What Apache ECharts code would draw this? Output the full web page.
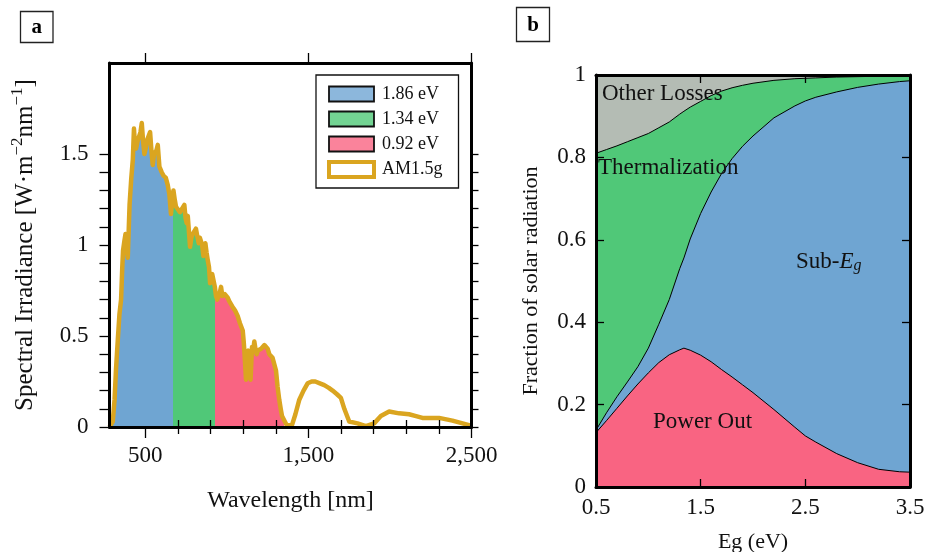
<!DOCTYPE html>
<html>
<head>
<meta charset="utf-8">
<script src="https://cdn.jsdelivr.net/npm/echarts@6/dist/echarts.min.js"></script>
<style>
  html, body { margin: 0; padding: 0; background: #fff; }
  #chart { width: 928px; height: 552px; }
</style>
</head>
<body>
<div id="chart"></div>
<script>
// ---- Panel a: AM1.5g solar spectrum ----
const wavelength = [280, 300, 311, 320, 331, 341, 351, 358, 363, 371, 378, 386, 392, 403, 413, 423, 430, 436, 443, 452,
  460, 470, 478, 486, 494, 504, 512, 520, 529, 537, 545, 553, 560, 568, 576, 586, 600, 612, 625, 637,
  647, 657, 664, 672, 680, 688, 698, 712, 725, 739, 746, 753, 760, 764, 774, 782, 790, 800, 810, 818,
  827, 834, 841, 848, 856, 862, 868, 875, 882, 890, 897, 903, 910, 918, 926, 933, 941, 949, 957, 964,
  972, 979, 987, 994, 1005, 1015, 1035, 1050, 1066, 1080, 1097, 1103, 1107, 1117, 1124, 1131, 1138, 1145, 1150, 1154,
  1161, 1168, 1175, 1182, 1190, 1199, 1210, 1219, 1230, 1240, 1250, 1260, 1270, 1280, 1292, 1301, 1311, 1321, 1330, 1338,
  1350, 1367, 1399, 1420, 1444, 1470, 1495, 1520, 1542, 1570, 1597, 1625, 1648, 1675, 1699, 1720, 1750, 1801, 1852, 1903,
  1944, 1995, 2056, 2117, 2160, 2199, 2301, 2383, 2485, 2500];
const irradiance = [0, 0.03, 0.15, 0.32, 0.48, 0.62, 0.70, 0.87, 0.97, 1.02, 1.06, 0.98, 0.93, 1.22, 1.36, 1.47, 1.64, 1.55, 1.53, 1.57,
  1.56, 1.62, 1.67, 1.57, 1.50, 1.54, 1.58, 1.57, 1.62, 1.52, 1.44, 1.50, 1.50, 1.52, 1.55, 1.43, 1.40, 1.38, 1.37, 1.33,
  1.28, 1.17, 1.24, 1.30, 1.25, 1.21, 1.20, 1.18, 1.20, 1.22, 1.15, 1.12, 1.16, 1.15, 0.99, 1.04, 1.06, 1.07, 1.09, 1.05,
  1.01, 1.04, 1.05, 1.00, 0.94, 0.98, 1.01, 0.96, 0.92, 0.88, 0.79, 0.82, 0.84, 0.84, 0.77, 0.72, 0.70, 0.70, 0.74, 0.77,
  0.72, 0.71, 0.73, 0.73, 0.71, 0.69, 0.66, 0.64, 0.61, 0.57, 0.53, 0.47, 0.42, 0.26, 0.40, 0.42, 0.34, 0.26, 0.36, 0.44,
  0.42, 0.47, 0.43, 0.40, 0.42, 0.41, 0.43, 0.44, 0.45, 0.46, 0.43, 0.40, 0.39, 0.38, 0.34, 0.31, 0.22, 0.15, 0.10, 0.06,
  0.05, 0.01, 0.01, 0.07, 0.15, 0.20, 0.24, 0.25, 0.25, 0.24, 0.23, 0.215, 0.20, 0.18, 0.16, 0.10, 0.03, 0.02, 0.005, 0.02,
  0.06, 0.085, 0.075, 0.07, 0.06, 0.05, 0.05, 0.035, 0.01, 0.005];

// Band gaps (eV) whose absorbed part of the spectrum is shaded
const bandGaps = [1.86, 1.34, 0.92];
const bandLabels = ['1.86 eV', '1.34 eV', '0.92 eV'];
const spectrumLabel = 'AM1.5g';

const xMajorTicks = [500, 1500, 2500];
const xMinorTicks = [700, 900, 1100, 1300, 1700, 1900, 2100, 2300];
const yTicksA = [0, 0.1, 0.2, 0.3, 0.4, 0.5, 0.6, 0.7, 0.8, 0.9, 1.0, 1.1, 1.2, 1.3, 1.4, 1.5];
const yLabelsA = [0, 0.5, 1, 1.5];

// ---- Panel b: fate of incident solar energy vs band gap ----
const egValues = [0.5, 0.6, 0.7, 0.8, 0.9, 1.0, 1.1, 1.2, 1.3, 1.34, 1.4, 1.5, 1.6, 1.7, 1.8, 1.9, 2.0,
  2.2, 2.4, 2.5, 2.6, 2.8, 3.0, 3.2, 3.4, 3.5];
const powerOut = [0.132, 0.161, 0.191, 0.221, 0.250, 0.277, 0.302, 0.321, 0.333, 0.337, 0.332, 0.320, 0.304,
  0.285, 0.267, 0.248, 0.229, 0.188, 0.145, 0.124, 0.109, 0.081, 0.059, 0.043, 0.037, 0.036];
const subBandGap = [0.006, 0.019, 0.028, 0.034, 0.042, 0.060, 0.093, 0.134, 0.197, 0.219, 0.270, 0.344, 0.412,
  0.476, 0.530, 0.579, 0.623, 0.708, 0.780, 0.813, 0.837, 0.878, 0.911, 0.935, 0.947, 0.950];
const thermalization = [0.672, 0.639, 0.609, 0.583, 0.556, 0.521, 0.477, 0.431, 0.375, 0.356, 0.320, 0.272, 0.234,
  0.200, 0.172, 0.148, 0.128, 0.091, 0.066, 0.055, 0.047, 0.036, 0.026, 0.019, 0.014, 0.012];
const otherLosses = [0.190, 0.181, 0.172, 0.162, 0.152, 0.142, 0.128, 0.114, 0.095, 0.088, 0.078, 0.064, 0.050,
  0.039, 0.031, 0.025, 0.020, 0.013, 0.009, 0.008, 0.007, 0.005, 0.004, 0.003, 0.002, 0.002];

const egTicks = [0.5, 1.5, 2.5, 3.5];

// ---- styling ----
const SERIF = "'Liberation Serif', 'DejaVu Serif', serif";
const BLUE = '#6fa5d2', GREEN = '#50c878', PINK = '#f96482', GRAY = '#b4bcb4', GOLD = '#daa520';
const BLUE_L = '#8cb7dc', GREEN_L = '#73d493', PINK_L = '#fa839b';
const fillColors = [BLUE, GREEN, PINK];
const legendColors = [BLUE_L, GREEN_L, PINK_L];

const spectrum = wavelength.map((w, i) => [w, irradiance[i]]);
const HC = 1239.84; // eV*nm
const edges = [wavelength[0]].concat(bandGaps.map(g => HC / g));

const frameLine = { show: true, onZero: false, lineStyle: { color: '#000', width: 3 } };
const labelFont = { fontFamily: SERIF, fontSize: 23, color: '#111' };
const tickLine = { color: '#000', width: 1.3 };

const chart = echarts.init(document.getElementById('chart'), null, { renderer: 'canvas' });

// helper for tick-only axes in panel a (mirrored / minor ticks)
const tickOnlyX = (position, values, length, withLine) => ({
  gridIndex: 0, type: 'value', position: position, min: 280, max: 2500, z: 10,
  axisLine: withLine ? frameLine : { show: false },
  axisTick: { show: true, inside: false, length: length, customValues: values, lineStyle: tickLine },
  axisLabel: { show: false }, splitLine: { show: false }
});

const xAxes = [
  { // a: bottom, major ticks + labels
    gridIndex: 0, type: 'value', position: 'bottom', min: 280, max: 2500, z: 10,
    axisLine: frameLine,
    axisTick: { show: true, inside: false, length: 11, customValues: xMajorTicks, lineStyle: tickLine },
    axisLabel: Object.assign({ customValues: xMajorTicks, margin: 17, formatter: v => v.toLocaleString('en-US') }, labelFont),
    splitLine: { show: false },
    name: 'Wavelength [nm]', nameLocation: 'middle', nameGap: 62,
    nameTextStyle: { fontFamily: SERIF, fontSize: 24, color: '#111' }
  },
  tickOnlyX('bottom', xMinorTicks, 7, false),
  tickOnlyX('top', xMajorTicks, 10, true),
  tickOnlyX('top', xMinorTicks, 7, false),
  { // b: bottom
    gridIndex: 1, type: 'value', position: 'bottom', min: 0.5, max: 3.5, z: 10,
    axisLine: frameLine,
    axisTick: { show: true, inside: true, length: 8, customValues: egTicks, lineStyle: tickLine },
    axisLabel: Object.assign({ customValues: egTicks, margin: 9, formatter: v => v.toFixed(1) }, labelFont),
    splitLine: { show: false },
    name: 'Eg (eV)', nameLocation: 'middle', nameGap: 44,
    nameTextStyle: { fontFamily: SERIF, fontSize: 22, color: '#111' }
  },
  { // b: top mirror
    gridIndex: 1, type: 'value', position: 'top', min: 0.5, max: 3.5, z: 10,
    axisLine: frameLine,
    axisTick: { show: true, inside: true, length: 8, customValues: egTicks, lineStyle: tickLine },
    axisLabel: { show: false }, splitLine: { show: false }
  }
];
const EG_X = 4; // index of the panel-b bottom axis

const yAxes = [
  { // a: left
    gridIndex: 0, type: 'value', position: 'left', min: 0, max: 2, z: 10,
    axisLine: frameLine,
    axisTick: { show: true, inside: false, length: 10, customValues: yTicksA, lineStyle: tickLine },
    axisLabel: Object.assign({ customValues: yLabelsA, margin: 21, formatter: v => String(v) }, labelFont),
    splitLine: { show: false },
    name: '{t|Spectral Irradiance [W·m}{s|−2}{t|nm}{s|−1}{t|]}',
    nameLocation: 'middle', nameGap: 72,
    nameTextStyle: {
      fontFamily: SERIF, fontSize: 24, color: '#111',
      rich: {
        t: { fontFamily: SERIF, fontSize: 25, color: '#111', lineHeight: 28, verticalAlign: 'bottom' },
        s: { fontFamily: SERIF, fontSize: 17, color: '#111', lineHeight: 28, verticalAlign: 'top' }
      }
    }
  },
  { // a: right mirror
    gridIndex: 0, type: 'value', position: 'right', min: 0, max: 2, z: 10,
    axisLine: frameLine,
    axisTick: { show: true, inside: false, length: 7, customValues: yTicksA, lineStyle: tickLine },
    axisLabel: { show: false }, splitLine: { show: false }
  },
  { // b: left
    gridIndex: 1, type: 'value', position: 'left', min: 0, max: 1, interval: 0.2, z: 10,
    axisLine: frameLine,
    axisTick: { show: true, inside: true, length: 8, lineStyle: tickLine },
    axisLabel: Object.assign({ margin: 10, formatter: v => (v === 0 ? '0' : v === 1 ? '1' : v.toFixed(1)) }, labelFont),
    splitLine: { show: false },
    name: 'Fraction of solar radiation', nameLocation: 'middle', nameGap: 54,
    nameTextStyle: { fontFamily: SERIF, fontSize: 22, color: '#111' }
  },
  { // b: right mirror
    gridIndex: 1, type: 'value', position: 'right', min: 0, max: 1, interval: 0.2, z: 10,
    axisLine: frameLine,
    axisTick: { show: true, inside: true, length: 8, lineStyle: tickLine },
    axisLabel: { show: false }, splitLine: { show: false }
  }
];

// shaded absorption bands under the spectrum
const bandSeries = bandLabels.map((name, i) => ({
  type: 'line', name: name, xAxisIndex: 0, yAxisIndex: 0,
  data: spectrum, symbol: 'none', showSymbol: false, silent: true,
  lineStyle: { width: 0, opacity: 0 },
  areaStyle: { opacity: 1 },
  z: 2
}));

const bandVisualMaps = bandLabels.map((name, i) => ({
  type: 'piecewise', show: false, seriesIndex: i, dimension: 0,
  pieces: [{ min: edges[i], max: edges[i + 1], color: fillColors[i] }],
  outOfRange: { color: 'rgba(0,0,0,0)' }
}));

const spectrumSeries = {
  type: 'line', name: spectrumLabel, xAxisIndex: 0, yAxisIndex: 0,
  data: spectrum, symbol: 'none', showSymbol: false, silent: true,
  lineStyle: { color: GOLD, width: 4.5, join: 'round' },
  itemStyle: { color: GOLD },
  z: 4
};

// Panel b bands are layered: each one is filled down to zero from its
// cumulative upper edge, drawn from the top band downwards.
const fateBands = [
  { name: 'Power Out', values: powerOut, color: PINK, line: true },
  { name: 'Sub-Eg', values: subBandGap, color: BLUE, line: true },
  { name: 'Thermalization', values: thermalization, color: GREEN, line: true },
  { name: 'Other Losses', values: otherLosses, color: GRAY, line: false }
];
const running = egValues.map(() => 0);
fateBands.forEach(b => {
  b.upper = egValues.map((e, i) => {
    running[i] += b.values[i];
    return [e, running[i]];
  });
});
const fateSeries = fateBands.slice().reverse().map((b, k) => ({
  type: 'line', name: b.name, xAxisIndex: EG_X, yAxisIndex: 2,
  data: b.upper, symbol: 'none', showSymbol: false, silent: true,
  lineStyle: b.line ? { color: '#000', width: 1 } : { width: 0, opacity: 0 },
  itemStyle: { color: b.color },
  areaStyle: { color: b.color, opacity: 1, origin: 'start' },
  z: 2 + k * 0.01
}));

const legendData = bandLabels.map((name, i) => ({
  name: name, icon: 'rect',
  itemStyle: { color: legendColors[i], borderColor: '#111', borderWidth: 1.8 }
})).concat([{
  name: spectrumLabel, icon: 'rect',
  itemStyle: { color: '#fff', borderColor: GOLD, borderWidth: 4 }
}]);

const annot = (x, y, text, extra) => ({
  type: 'text', x: x, y: y, z: 20, silent: true,
  style: Object.assign({ text: text, fontFamily: SERIF, fontSize: 22, fill: '#111', verticalAlign: 'middle', align: 'left' }, extra || {})
});

const panelTag = (x, y, w, h, letter) => ({
  type: 'group', x: x, y: y, z: 20, silent: true,
  children: [
    { type: 'rect', shape: { x: 0, y: 0, width: w, height: h }, style: { fill: '#fff', stroke: '#222', lineWidth: 1.3 } },
    { type: 'text', x: w / 2, y: h / 2 + 1, style: { text: letter, fontFamily: SERIF, fontWeight: 'bold', fontSize: 21, fill: '#000', align: 'center', verticalAlign: 'middle' } }
  ]
});

chart.setOption({
  animation: false,
  backgroundColor: '#fff',
  grid: [
    { left: 109.5, right: 456.5, top: 63, bottom: 125, containLabel: false, outerBoundsMode: 'none' },
    { left: 596, right: 18, top: 75, bottom: 65, containLabel: false, outerBoundsMode: 'none' }
  ],
  xAxis: xAxes,
  yAxis: yAxes,
  visualMap: bandVisualMaps,
  legend: {
    left: 316, top: 75, orient: 'vertical', selectedMode: false,
    data: legendData,
    itemWidth: 45, itemHeight: 15, itemGap: 7,
    padding: [10, 16, 9, 11],
    backgroundColor: '#fff', borderColor: '#111', borderWidth: 1.3, borderRadius: 0,
    textStyle: { fontFamily: SERIF, fontSize: 18, color: '#111', lineHeight: 15, padding: [0, 0, 0, 3] }
  },
  series: bandSeries.concat([spectrumSeries]).concat(fateSeries),
  graphic: [
    panelTag(20.5, 11.5, 32.5, 31, 'a'),
    panelTag(516.5, 7.5, 33, 34, 'b'),
    annot(602, 94, 'Other Losses', { fontSize: 23 }),
    annot(598, 168, 'Thermalization', { fontSize: 23 }),
    annot(796, 262, '', {
      text: 'Sub-{e|E}{g|g}',
      fontSize: 23,
      rich: {
        e: { fontFamily: SERIF, fontSize: 23, fontStyle: 'italic', fill: '#111' },
        g: { fontFamily: SERIF, fontSize: 16, fontStyle: 'italic', fill: '#111', verticalAlign: 'bottom', padding: [8, 0, 0, 0] }
      }
    }),
    annot(653, 422, 'Power Out', { fontSize: 23 })
  ]
});
</script>
</body>
</html>
